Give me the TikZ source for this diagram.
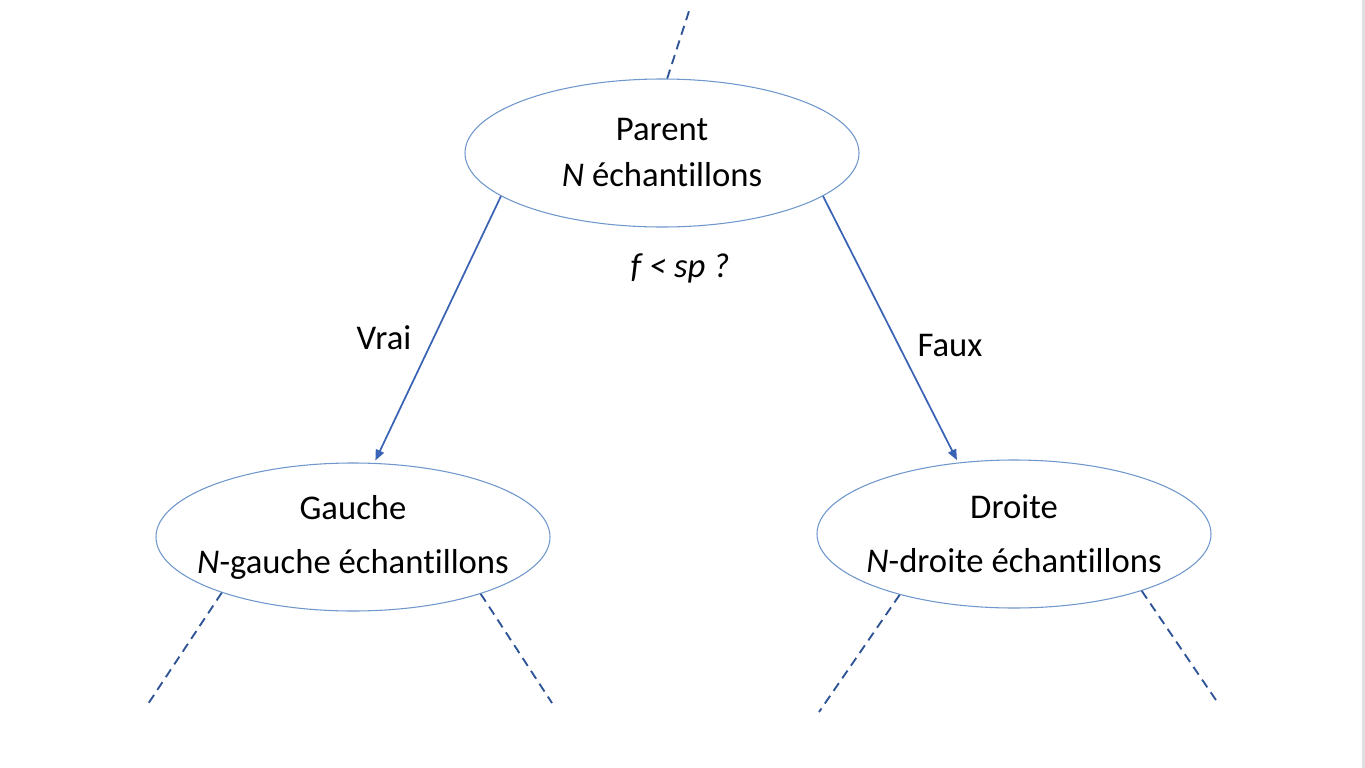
\documentclass[tikz,border=0pt]{standalone}
\usepackage{fontspec}
\setmainfont{Carlito}[Ligatures=NoCommon]
\usetikzlibrary{shapes.geometric,arrows.meta}
\definecolor{ovalblue}{HTML}{6F97CC}
\definecolor{arrowblue}{HTML}{3A63B5}
\definecolor{dashblue}{HTML}{2F5496}
\newcommand{\ctr}[1]{\makebox[0pt]{#1}}
\begin{document}
\begin{tikzpicture}[x=0.75pt,y=-0.75pt]
    \tikzstyle{split}=[ellipse,draw=ovalblue,line width=0.8pt,minimum width=295.5pt,minimum height=111pt,inner sep=0pt,align=center,font=\fontsize{26}{34.5}\selectfont]
    \tikzstyle{leaf}=[font=\fontsize{26}{40.5}\selectfont]
    \tikzstyle{branch}=[draw=arrowblue,line width=1.3pt,shorten >=2pt,-{Triangle[length=8pt,width=6.5pt]}]
    \tikzstyle{stub}=[draw=dashblue,line width=1.4pt,dash pattern=on 7pt off 4.5pt]
    \tikzstyle{lbl}=[font=\fontsize{26}{30}\selectfont]
    \useasboundingbox (0,0) rectangle (1365,768);
    \fill[gray!25] (1362,0) rectangle (1365,768);
    \node[split] (parent) at (662,153) {\ctr{Parent}\\\ctr{\textit{N} échantillons}};
    \node[split,leaf] (gauche) at (353,537) {\ctr{Gauche}\\\ctr{\textit{N}-gauche échantillons}};
    \node[split,leaf] (droite) at (1014,534) {\ctr{Droite}\\\ctr{\textit{N}-droite échantillons}};
    \node[lbl] (test) at (680,268) {\textit{f < sp ?}};
    \node[lbl] (vrai) at (384,338) {Vrai};
    \node[lbl] (faux) at (950,345) {Faux};
    \draw[branch] (parent.195.5) -- (gauche.74);
    \draw[branch] (parent.345.8) -- (droite.128);
    \coordinate (up) at (690,8);
    \coordinate (gl) at (146,707);
    \coordinate (gr) at (552,703);
    \coordinate (dl) at (819,712);
    \coordinate (dr) at (1218,703);
    \draw[stub] (parent.86) -- (up);
    \draw[stub] (gauche.203.5) -- (gl);
    \draw[stub] (gauche.336.3) -- (gr);
    \draw[stub] (droite.208.5) -- (dl);
    \draw[stub] (droite.336) -- (dr);
\end{tikzpicture}
\end{document}
